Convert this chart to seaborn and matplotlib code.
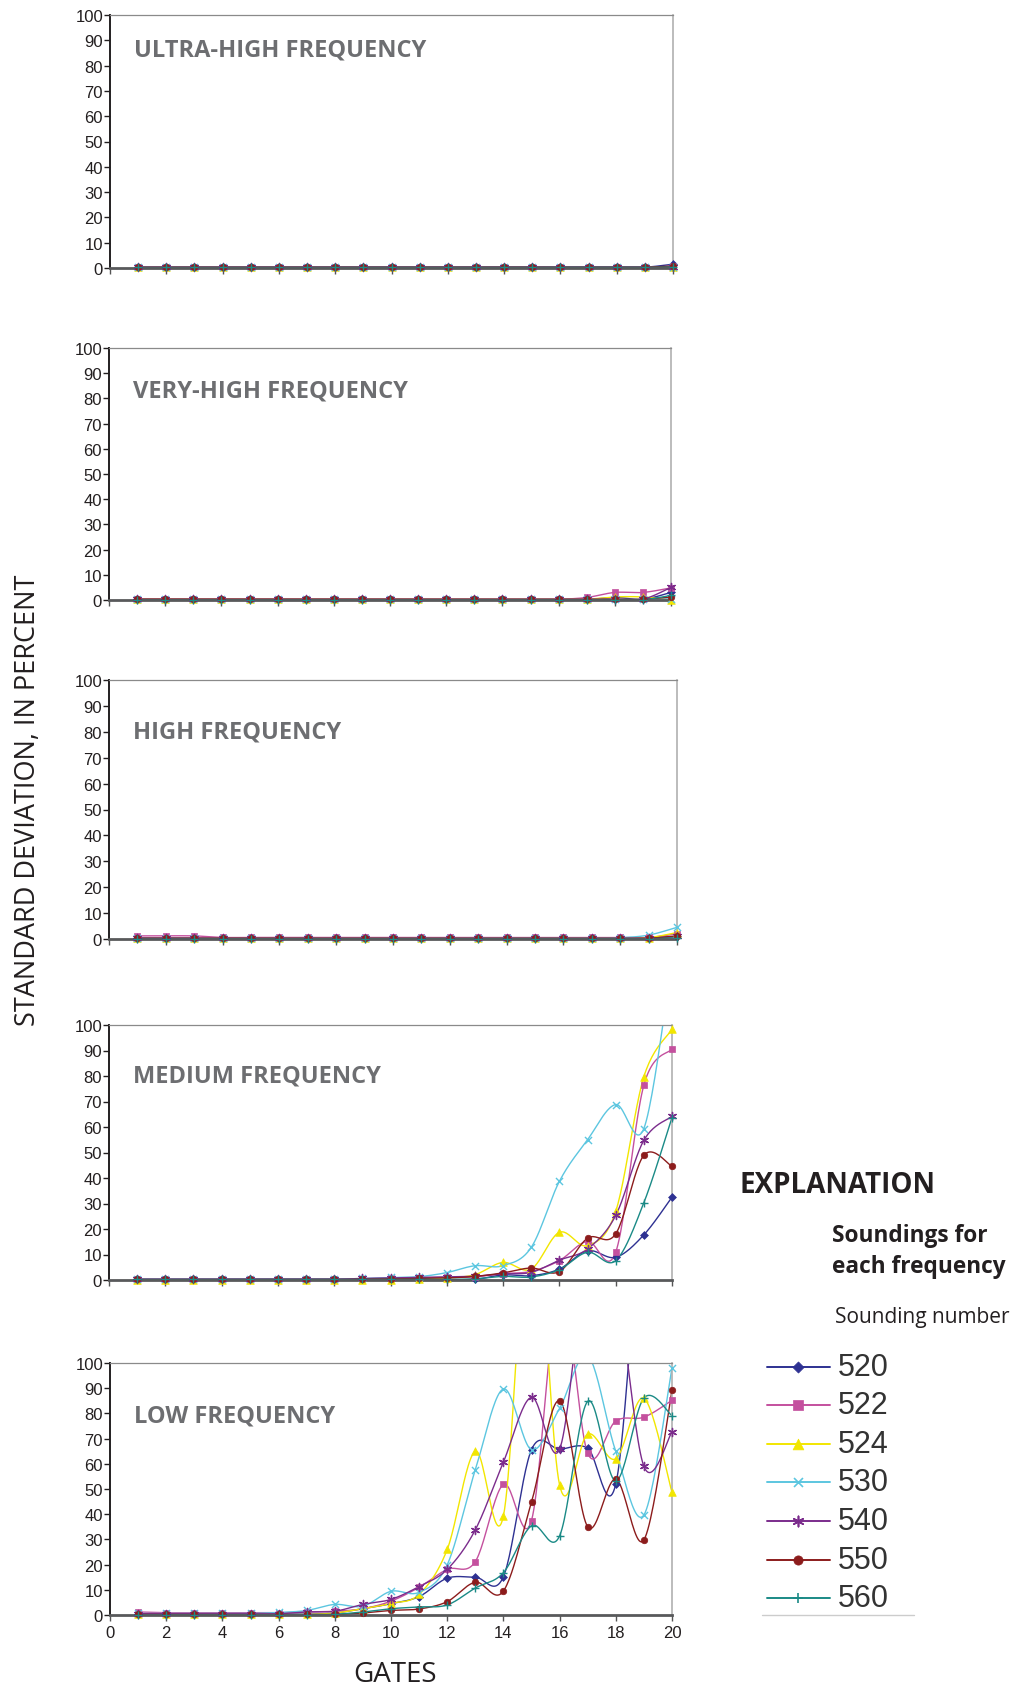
import numpy as np
import pandas as pd
import matplotlib
matplotlib.use("Agg")
import matplotlib.pyplot as plt
import seaborn as sns

# ---------------- data ----------------
gates = list(range(1, 21))
soundings = ["520", "522", "524", "530", "540", "550", "560"]
panel_titles = ["ULTRA-HIGH FREQUENCY", "VERY-HIGH FREQUENCY", "HIGH FREQUENCY",
                "MEDIUM FREQUENCY", "LOW FREQUENCY"]

uhf_520 = [0.3] * 19 + [1.5]
uhf_522 = [0.4] * 19 + [0.6]
uhf_524 = [0.3] * 20
uhf_530 = [0.3] * 15 + [0.5] * 5
uhf_540 = [0.3] * 19 + [0.5]
uhf_550 = [0.3] * 19 + [0.8]
uhf_560 = [0.2] * 19 + [0.4]

vhf_520 = [0.2] * 17 + [1.0, 0.3, 3.0]
vhf_522 = [0.3] * 16 + [1.0, 3.0, 3.0, 4.8]
vhf_524 = [0.3] * 17 + [1.2, 1.2, 0.0]
vhf_530 = [0.2] * 19 + [0.5]
vhf_540 = [0.3] * 19 + [5.0]
vhf_550 = [0.3] * 19 + [1.2]
vhf_560 = [0.1] * 19 + [1.8]

hf_520 = [0.3] * 19 + [1.0]
hf_522 = [1.2, 1.2, 1.2] + [0.6] * 16 + [2.0]
hf_524 = [0.2] * 18 + [0.5, 2.5]
hf_530 = [0.3] * 17 + [0.5, 1.5, 4.5]
hf_540 = [0.3] * 19 + [1.0]
hf_550 = [0.3] * 19 + [1.2]
hf_560 = [0.1] * 19 + [0.5]

mf_520 = [0.2] * 13 + [2.0, 1.7, 4.3, 11.5, 8.9, 17.7, 32.5]
mf_522 = [0.3] * 8 + [0.5, 0.6, 0.8, 1.0, 1.3, 2.5, 3.4, 7.6, 15.2, 10.9, 76.4, 90.6]
mf_524 = [0.1] * 10 + [0.4, 0.8, 2.1, 6.9, 4.3, 18.7, 13.5, 26.9, 79.7, 98.3]
mf_530 = [0.3] * 8 + [0.6, 1.0, 1.3, 2.9, 5.6, 5.6, 12.8, 38.7, 55.0, 68.8, 59.4, 125.0]
mf_540 = [0.3] * 8 + [0.6, 0.8, 1.0, 1.2, 1.5, 2.4, 3.0, 7.8, 12.2, 25.3, 54.8, 64.2]
mf_550 = [0.2] * 8 + [0.3, 0.4, 0.6, 0.8, 1.4, 2.8, 4.7, 3.3, 16.4, 18.1, 48.9, 44.6]
mf_560 = [0.2] * 12 + [0.5, 1.4, 1.2, 4.1, 10.9, 7.6, 30.3, 63.7]

lf_520 = [0.3] * 7 + [0.8, 2.5, 4.5, 7.3, 14.6, 15.0, 15.2, 65.6, 65.8, 66.2, 52.0, 160.0, 140.0]
lf_522 = [1.2, 0.9, 0.9, 0.9, 0.9, 0.9, 1.2, 1.5, 2.5, 5.5, 11.0, 18.1, 21.2, 51.9, 37.5,
          130.0, 64.2, 77.0, 78.5, 85.2]
lf_524 = [0.2] * 7 + [0.8, 2.5, 4.6, 8.2, 26.0, 65.0, 39.3, 170.0, 51.6, 71.8, 62.0, 86.0, 48.7]
lf_530 = [0.6] * 5 + [1.0, 1.8, 4.2, 3.5, 9.4, 9.0, 19.9, 57.6, 89.7, 65.6, 82.0, 103.0,
                      64.9, 39.7, 98.0]
lf_540 = [0.5] * 6 + [1.2, 1.5, 4.2, 6.2, 11.3, 18.1, 33.8, 60.7, 86.4, 65.8, 140.0, 130.0,
                      59.0, 72.6]
lf_550 = [0.2] * 8 + [0.8, 1.8, 2.4, 5.3, 13.0, 9.5, 44.8, 85.0, 35.0, 53.9, 29.8, 89.1]
lf_560 = [0.1] * 7 + [0.3, 1.2, 2.5, 3.2, 4.0, 10.7, 16.8, 35.4, 31.4, 84.8, 53.2, 86.1, 79.1]

panels = [
    [uhf_520, uhf_522, uhf_524, uhf_530, uhf_540, uhf_550, uhf_560],
    [vhf_520, vhf_522, vhf_524, vhf_530, vhf_540, vhf_550, vhf_560],
    [hf_520, hf_522, hf_524, hf_530, hf_540, hf_550, hf_560],
    [mf_520, mf_522, mf_524, mf_530, mf_540, mf_550, mf_560],
    [lf_520, lf_522, lf_524, lf_530, lf_540, lf_550, lf_560],
]
y_ticks = list(range(0, 101, 10))
x_ticks = list(range(0, 21, 2))

# ---------------- style ----------------
sns.set_style("white")
plt.rcParams["font.family"] = ["Open Sans", "DejaVu Sans"]

colors = ["#2e3192", "#c4509e", "#f2e600", "#5cc6e0", "#7b2c8c", "#8c1c1c", "#1a8a86"]
markers = ["D", "s", "^", "x", (6, 2, 0), "o", "+"]
msizes = [16, 22, 30, 26, 34, 22, 34]
dark = "#231f20"
title_gray = "#6d6e71"

W, H = 1017, 1690
fig = plt.figure(figsize=(W / 100, H / 100), dpi=100)

# axes boxes in pixels: left, right, top, bottom
boxes = [(110, 673, 16, 269), (109, 671, 349, 601), (109, 677, 681, 940),
         (109, 672, 1026, 1281), (110, 672, 1364, 1616)]
title_y = [86.5, 83, 80, 80, 79]


def catmull(xs, ys, n=24):
    P = np.column_stack([xs, ys]).astype(float)
    P = np.vstack([P[0], P, P[-1]])
    out = []
    for i in range(1, len(P) - 2):
        p0, p1, p2, p3 = P[i - 1], P[i], P[i + 1], P[i + 2]
        c1 = p1 + (p2 - p0) / 6.0
        c2 = p2 - (p3 - p1) / 6.0
        t = np.linspace(0, 1, n, endpoint=(i == len(P) - 3))[:, None]
        seg = ((1 - t) ** 3) * p1 + 3 * ((1 - t) ** 2) * t * c1 + 3 * (1 - t) * t ** 2 * c2 + t ** 3 * p2
        out.append(seg)
    out = np.vstack(out)
    return out[:, 0], out[:, 1]


for k, (series_list, box) in enumerate(zip(panels, boxes)):
    l, r, t, b = box
    ax = fig.add_axes([l / W, 1 - b / H, (r - l) / W, (b - t) / H])
    for s_i, vals in enumerate(series_list):
        sx, sy = catmull(gates, vals)
        sns.lineplot(x=sx, y=sy, sort=False, estimator=None, color=colors[s_i],
                     linewidth=1.0, ax=ax)
        df = pd.DataFrame({"g": gates, "v": vals})
        df = df[df["v"] <= 100.5]
        m = markers[s_i]
        if m in ("x", "+") or isinstance(m, tuple):
            sns.scatterplot(data=df, x="g", y="v", marker=m, color=colors[s_i],
                            s=msizes[s_i], linewidth=1.0, ax=ax, clip_on=False,
                            zorder=3)
        else:
            sns.scatterplot(data=df, x="g", y="v", marker=m, color=colors[s_i],
                            edgecolor=colors[s_i], s=msizes[s_i], linewidth=0.5,
                            ax=ax, clip_on=False, zorder=3)
    ax.set_xlim(0, 20)
    ax.set_ylim(0, 100)
    ax.set_yticks(y_ticks)
    ax.set_xticks(x_ticks)
    ax.set_xlabel("")
    ax.set_ylabel("")
    ax.tick_params(axis="y", direction="out", length=4, width=1, color=dark, pad=1,
                   labelsize=12, labelcolor=dark, left=True)
    ax.tick_params(axis="x", direction="out", length=4, width=1, color="#555555",
                   pad=3, labelsize=12, labelcolor=dark, bottom=True)
    for lab in ax.get_yticklabels() + ax.get_xticklabels():
        lab.set_fontfamily("Liberation Sans")
    if k < 4:
        ax.set_xticklabels([])
    ax.spines["left"].set_color(dark)
    ax.spines["left"].set_linewidth(1.4)
    ax.spines["bottom"].set_color("#58595b")
    ax.spines["bottom"].set_linewidth(2.0)
    ax.spines["top"].set_color("#8a8a8a")
    ax.spines["top"].set_linewidth(0.9)
    ax.spines["right"].set_color("#b0b0b0")
    ax.spines["right"].set_linewidth(1.2)
    ax.text(0.85, title_y[k], panel_titles[k], fontsize=17, fontweight="bold",
            color=title_gray, va="center", ha="left")

# axis titles
fig.text(28 / W, 1 - 800 / H, "STANDARD DEVIATION, IN PERCENT", rotation=90,
         fontsize=19.5, color=dark, ha="center", va="center")
fig.text(395 / W, 1 - 1675 / H, "GATES", fontsize=20, color=dark,
         ha="center", va="center")

# explanation / legend
fig.text(739 / W, 1 - 1186 / H, "EXPLANATION", fontsize=20, fontweight="bold",
         color=dark, ha="left", va="center")
fig.text(832 / W, 1 - 1236 / H, "Soundings for", fontsize=16.3, fontweight="bold",
         color=dark, ha="left", va="center")
fig.text(832 / W, 1 - 1267 / H, "each frequency", fontsize=16.3, fontweight="bold",
         color=dark, ha="left", va="center")
fig.text(835 / W, 1 - 1317 / H, "Sounding number", fontsize=15, color=dark,
         ha="left", va="center")

lax = fig.add_axes([0, 0, 1, 1], facecolor="none")
lax.set_xlim(0, W)
lax.set_ylim(H, 0)
lax.axis("off")
row_y = [1368, 1406, 1445, 1483, 1522, 1561, 1599]
for i, lab in enumerate(soundings):
    y = row_y[i]
    lax.plot([767, 830], [y, y], color=colors[i], linewidth=1.4)
    m = markers[i]
    if m in ("x", "+") or isinstance(m, tuple):
        lax.scatter([798], [y], marker=m, color=colors[i], s=msizes[i] * 1.6,
                    linewidth=1.2, zorder=3)
    else:
        lax.scatter([798], [y], marker=m, color=colors[i], edgecolor=colors[i],
                    s=msizes[i] * 2.0, linewidth=0.5, zorder=3)
    lax.text(838, y, lab, fontsize=22, color="#333333", va="center", ha="left",
             family="Liberation Sans")
lax.plot([762, 914], [1616, 1616], color="#cccccc", linewidth=1.0)

fig.savefig("out.png", dpi=100)
